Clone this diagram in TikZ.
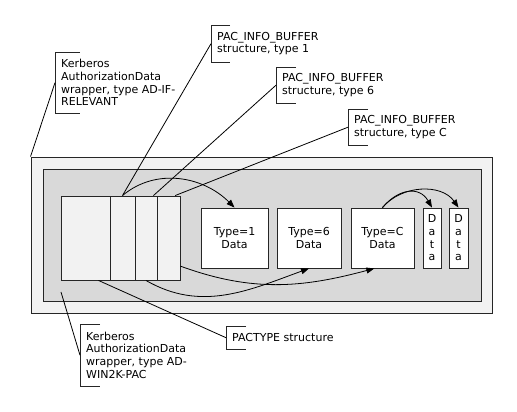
\documentclass[tikz,border=0pt]{standalone}
\usepackage{fontspec}
\setmainfont{DejaVu Sans}
\usetikzlibrary{arrows.meta, positioning}
\definecolor{wrapgray}{HTML}{F2F2F2}
\definecolor{pacgray}{HTML}{D9D9D9}
\definecolor{linegray}{HTML}{262626}

\begin{document}
\begin{tikzpicture}[
    x=1pt, y=1pt,
    every node/.style={font=\fontsize{11}{12.7}\selectfont, text=black},
    frame/.style={rectangle, draw=linegray, line width=0.9pt, inner sep=0pt},
    cell/.style={frame, fill=wrapgray, minimum height=84pt},
    databox/.style={frame, fill=white, minimum height=60pt, align=center},
    callout/.style={anchor=north west, align=left, inner xsep=6pt, inner ysep=0pt},
    bracket/.style={draw=linegray, line width=0.8pt},
    leader/.style={draw=black, line width=0.8pt},
    arrow/.style={-{Triangle[length=8pt, width=6pt]}, line width=0.8pt, black}
]
\useasboundingbox (0,0) rectangle (517,412);

% Wrapper boxes
\node[frame, fill=wrapgray, minimum width=461pt, minimum height=156pt] (wrap) at (261.5,177) {};
\node[frame, fill=pacgray, minimum width=438pt, minimum height=132pt] (pac) at (262,177) {};

% PACTYPE cells
\node[cell, minimum width=49pt] (pac0) at (85.5,174) {};
\node[cell, minimum width=25pt] (pac1) at (122.5,174) {};
\node[cell, minimum width=22pt] (pac2) at (146,174) {};
\node[cell, minimum width=23pt] (pac3) at (168.5,174) {};

% Buffer data
\node[databox, minimum width=67pt] (t1) at (234.5,174) {Type=1\\Data};
\node[databox, minimum width=64pt] (t6) at (309,174) {Type=6\\Data};
\node[databox, minimum width=63pt] (tC) at (382.5,174) {Type=C\\Data};
\node[databox, minimum width=18pt] (d1) at (432,174) {D\\a\\t\\a};
\node[databox, minimum width=19pt] (d2) at (458.5,174) {D\\a\\t\\a};

% Callouts
\node[callout, minimum height=61pt] (adif) at (55,360) {Kerberos\\AuthorizationData\\wrapper, type AD-IF-\\RELEVANT};
\node[callout, minimum height=37pt] (info1) at (211,387) {PAC\_INFO\_BUFFER\\structure, type 1};
\node[callout, minimum height=36pt] (info6) at (276,345) {PAC\_INFO\_BUFFER\\structure, type 6};
\node[callout, minimum height=36pt] (infoC) at (348,303) {PAC\_INFO\_BUFFER\\structure, type C};
\node[callout, minimum height=23pt] (pactype) at (226,86) {PACTYPE structure};
\node[callout, minimum height=62pt] (win2k) at (80,88) {Kerberos\\AuthorizationData\\wrapper, type AD-\\WIN2K-PAC};

\foreach \c/\w in {adif/25, info1/19, info6/20, infoC/20, pactype/20, win2k/20}
    \draw[bracket] ([xshift=\w pt]\c.north west) -- (\c.north west) -- (\c.south west) -- ([xshift=\w pt]\c.south west);

% Leaders
\coordinate (winpt) at (61,120);
\draw[leader] (adif.west) -- (wrap.north west);
\draw[leader] (info1.west) -- (pac1.north);
\draw[leader] (info6.west) -- (pac2.80);
\draw[leader] (infoC.west) -- (pac3.81);
\draw[leader] (pactype.west) -- (pac0.-73);
\draw[leader] (win2k.west) -- (winpt);

% Arrows
\draw[arrow] (pac1.north) to[out=40, in=135] (t1.north);
\draw[arrow] (pac3.-67) to[out=-20, in=195] (tC.-105);
\draw[arrow] (pac2.south) to[out=-30, in=200] (t6.south);
\draw[arrow] (tC.north) to[out=50, in=120, looseness=1.3] (d1.north);
\draw[arrow] (tC.north) to[out=50, in=125] (d2.north);

\end{tikzpicture}
\end{document}
